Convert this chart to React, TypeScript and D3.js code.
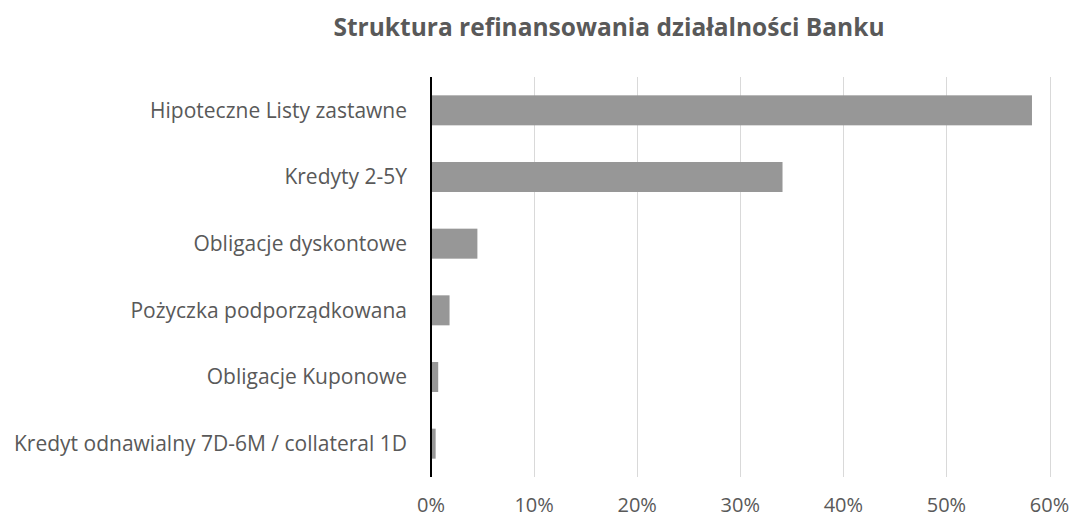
import React, { useEffect, useRef } from 'react';
import * as d3 from 'd3';

const categories = [
  'Hipoteczne Listy zastawne',
  'Kredyty 2-5Y',
  'Obligacje dyskontowe',
  'Pożyczka podporządkowana',
  'Obligacje Kuponowe',
  'Kredyt odnawialny 7D-6M / collateral 1D',
];
const shares = [0.583, 0.341, 0.045, 0.018, 0.007, 0.0045];
const ticks = [0, 0.1, 0.2, 0.3, 0.4, 0.5, 0.6];
const title = 'Struktura refinansowania działalności Banku';

function App() {
  const ref = useRef<SVGSVGElement | null>(null);

  useEffect(() => {
    if (!ref.current) return;
    const width = 1072;
    const height = 517;
    const margin = { top: 77, right: 22, bottom: 40, left: 431 };
    const innerW = width - margin.left - margin.right;
    const innerH = height - margin.top - margin.bottom;
    const font = '"Open Sans", sans-serif';
    const textColor = '#595959';

    const svg = d3.select(ref.current);
    svg.selectAll('*').remove();
    svg.attr('width', width).attr('height', height);

    svg.append('text')
      .attr('x', 609)
      .attr('y', 36)
      .attr('text-anchor', 'middle')
      .attr('font-family', font)
      .attr('font-weight', 'bold')
      .attr('font-size', 24.5)
      .attr('fill', textColor)
      .text(title);

    const g = svg.append('g').attr('transform', `translate(${margin.left},${margin.top})`);

    const x = d3.scaleLinear().domain([0, 0.6]).range([0, innerW - 0.5]);
    const y = d3.scaleBand().domain(categories).range([0, innerH]).paddingInner(0.55).paddingOuter(0.275);

    // gridlines
    g.selectAll('.grid')
      .data(ticks.slice(1))
      .join('line')
      .attr('x1', (d) => Math.round(x(d)) + 0.5)
      .attr('x2', (d) => Math.round(x(d)) + 0.5)
      .attr('y1', 0)
      .attr('y2', innerH)
      .attr('stroke', '#d9d9d9')
      .attr('stroke-width', 1);

    // bars
    g.selectAll('.bar')
      .data(shares)
      .join('rect')
      .attr('x', x(0))
      .attr('y', (_, i) => y(categories[i]) as number)
      .attr('width', (d) => x(d))
      .attr('height', y.bandwidth())
      .attr('fill', '#979797');

    // axis line
    g.append('line')
      .attr('x1', 0)
      .attr('x2', 0)
      .attr('y1', 0)
      .attr('y2', innerH)
      .attr('stroke', '#000')
      .attr('stroke-width', 2);

    // category labels
    g.selectAll('.cat')
      .data(categories)
      .join('text')
      .attr('x', -24)
      .attr('y', (d) => (y(d) as number) + y.bandwidth() / 2)
      .attr('dy', '0.35em')
      .attr('text-anchor', 'end')
      .attr('font-family', font)
      .attr('font-size', 21)
      .attr('fill', textColor)
      .text((d) => d);

    // tick labels
    g.selectAll('.tick')
      .data(ticks)
      .join('text')
      .attr('x', (d) => x(d))
      .attr('y', innerH + 35)
      .attr('text-anchor', 'middle')
      .attr('font-family', font)
      .attr('font-size', 20)
      .attr('fill', textColor)
      .text((d) => d3.format('.0%')(d));
  }, []);

  return (
    <div style={{ position: 'absolute', left: 0, top: 0 }}>
      <svg ref={ref} style={{ display: 'block' }} />
    </div>
  );
}

export default App;
